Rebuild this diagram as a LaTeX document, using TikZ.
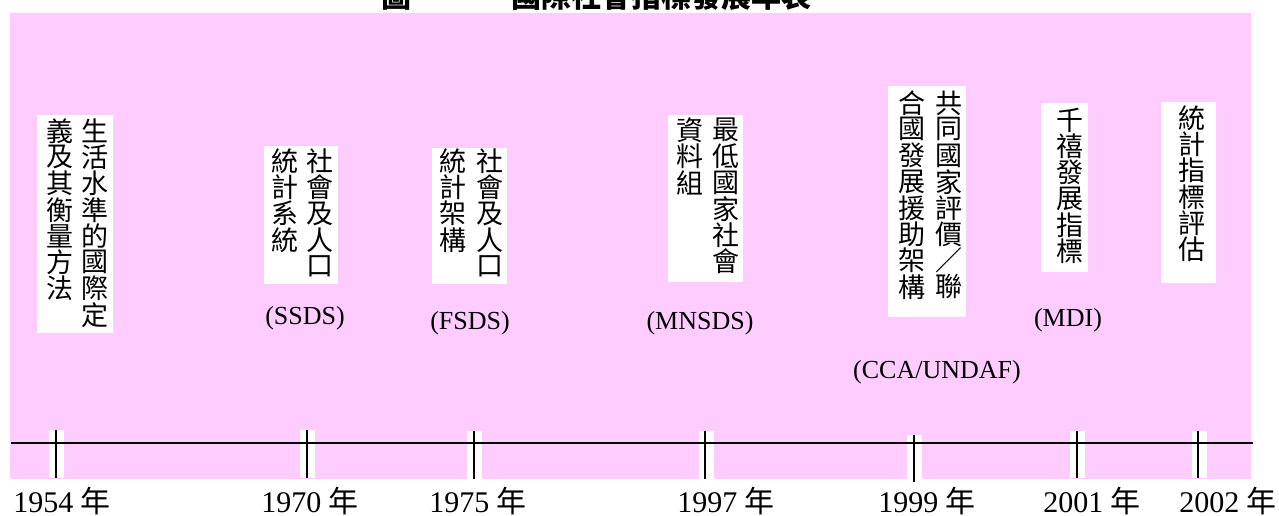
\documentclass[tikz,border=0pt]{standalone}
\usepackage{fontspec}
\setmainfont{Liberation Serif}
\newfontfamily\cjk{Noto Sans CJK TC}
\definecolor{bgpink}{RGB}{255,204,255}
\newcommand\vcolumn[4]{%
  \foreach \c [count=\i] in {#4} {\node[cj] (#1-\i) at (#2,{-#3-(\i-0.5)*26.25}) {\c};}}
\begin{document}
\begin{tikzpicture}[x=1pt,y=1pt,
  cj/.style={inner sep=0pt, font=\cjk\fontsize{27}{27}\selectfont},
  abbr/.style={inner sep=0pt, font=\fontsize{26}{26}\selectfont},
  yearlbl/.style={inner sep=0pt, anchor=base, font=\fontsize{30}{30}\selectfont},
  titletext/.style={inner sep=0pt, anchor=base west, font=\cjk\bfseries\fontsize{30}{30}\selectfont},
  textbox/.style={fill=white, draw=none, inner sep=0pt, anchor=north west},
  tickbg/.style={fill=white, draw=none, inner sep=0pt, minimum width=15pt, anchor=north},
  tickline/.style={line width=1.5pt},
  axis/.style={line width=1.6pt}]
\useasboundingbox (0,0) rectangle (1279,-516);
\clip (0,0) rectangle (1279,-516);
% title (cut off at the top)
\node[titletext] (title1) at (381,-8) {圖};
\node[titletext] (title2) at (511,-8) {國際社會指標發展年表};
% background
\fill[bgpink] (10,-13) rectangle (1251,-479);
% white text boxes
\node[textbox, minimum width=76pt, minimum height=218pt] (b1) at (37,-115) {};
\node[textbox, minimum width=74pt, minimum height=138pt] (b2) at (264,-146) {};
\node[textbox, minimum width=75pt, minimum height=136pt] (b3) at (432,-148) {};
\node[textbox, minimum width=75pt, minimum height=167pt] (b4) at (668,-115) {};
\node[textbox, minimum width=78pt, minimum height=231pt] (b5) at (888,-86) {};
\node[textbox, minimum width=47pt, minimum height=169pt] (b6) at (1041,-103) {};
\node[textbox, minimum width=55pt, minimum height=181pt] (b7) at (1161,-102) {};
% vertical texts
\vcolumn{c1r}{95}{118}{生,活,水,準,的,國,際,定}
\vcolumn{c1l}{59.5}{118}{義,及,其,衡,量,方,法}
\vcolumn{c2r}{319.5}{148}{社,會,及,人,口}
\vcolumn{c2l}{284.5}{148}{統,計,系,統}
\vcolumn{c3r}{489.5}{148}{社,會,及,人,口}
\vcolumn{c3l}{452.5}{148}{統,計,架,構}
\vcolumn{c4r}{725.5}{117}{最,低,國,家,社,會}
\vcolumn{c4l}{689.5}{117}{資,料,組}
\vcolumn{c5r}{948.5}{90}{共,同,國,家,評,價,／,聯}
\vcolumn{c5l}{911.5}{90}{合,國,發,展,援,助,架,構}
\vcolumn{c6}{1069.5}{107}{千,禧,發,展,指,標}
\vcolumn{c7}{1191.5}{105}{統,計,指,標,評,估}
% abbreviations
\node[abbr] (ssds) at (305,-318) {(SSDS)};
\node[abbr] (fsds) at (470,-323) {(FSDS)};
\node[abbr] (mnsds) at (700,-323) {(MNSDS)};
\node[abbr] (cca) at (937,-372) {(CCA/UNDAF)};
\node[abbr] (mdi) at (1068,-320) {(MDI)};
% tick backgrounds
\node[tickbg, minimum height=48pt] (t1) at (56.5,-430) {};
\node[tickbg, minimum height=48pt] (t2) at (307.5,-430) {};
\node[tickbg, minimum height=48pt] (t3) at (474.5,-431) {};
\node[tickbg, minimum height=48pt] (t4) at (706,-431) {};
\node[tickbg, minimum height=47pt] (t5) at (914.5,-435) {};
\node[tickbg, minimum height=47pt] (t6) at (1077.5,-431) {};
\node[tickbg, minimum height=47pt] (t7) at (1199,-431) {};
% axis
\coordinate (axL) at (11,-443);
\coordinate (axR) at (1253,-443);
\draw[axis] (axL) -- (axR);
% ticks
\foreach \t/\x in {t1/56,t2/307,t3/474,t4/705,t5/914,t6/1077,t7/1198}
  \draw[tickline] (\x,0 |- \t.north) -- (\x,0 |- \t.south);
\draw[tickline] (914,-478) -- (914,-482);
% year labels
\node[yearlbl] (y1954) at (62,-512) {1954 {\cjk 年}};
\node[yearlbl] (y1970) at (310,-512) {1970 {\cjk 年}};
\node[yearlbl] (y1975) at (478,-512) {1975 {\cjk 年}};
\node[yearlbl] (y1997) at (726,-512) {1997 {\cjk 年}};
\node[yearlbl] (y1999) at (927,-512) {1999 {\cjk 年}};
\node[yearlbl] (y2001) at (1092,-512) {2001 {\cjk 年}};
\node[yearlbl] (y2002) at (1228,-512) {2002 {\cjk 年}};
\end{tikzpicture}
\end{document}
